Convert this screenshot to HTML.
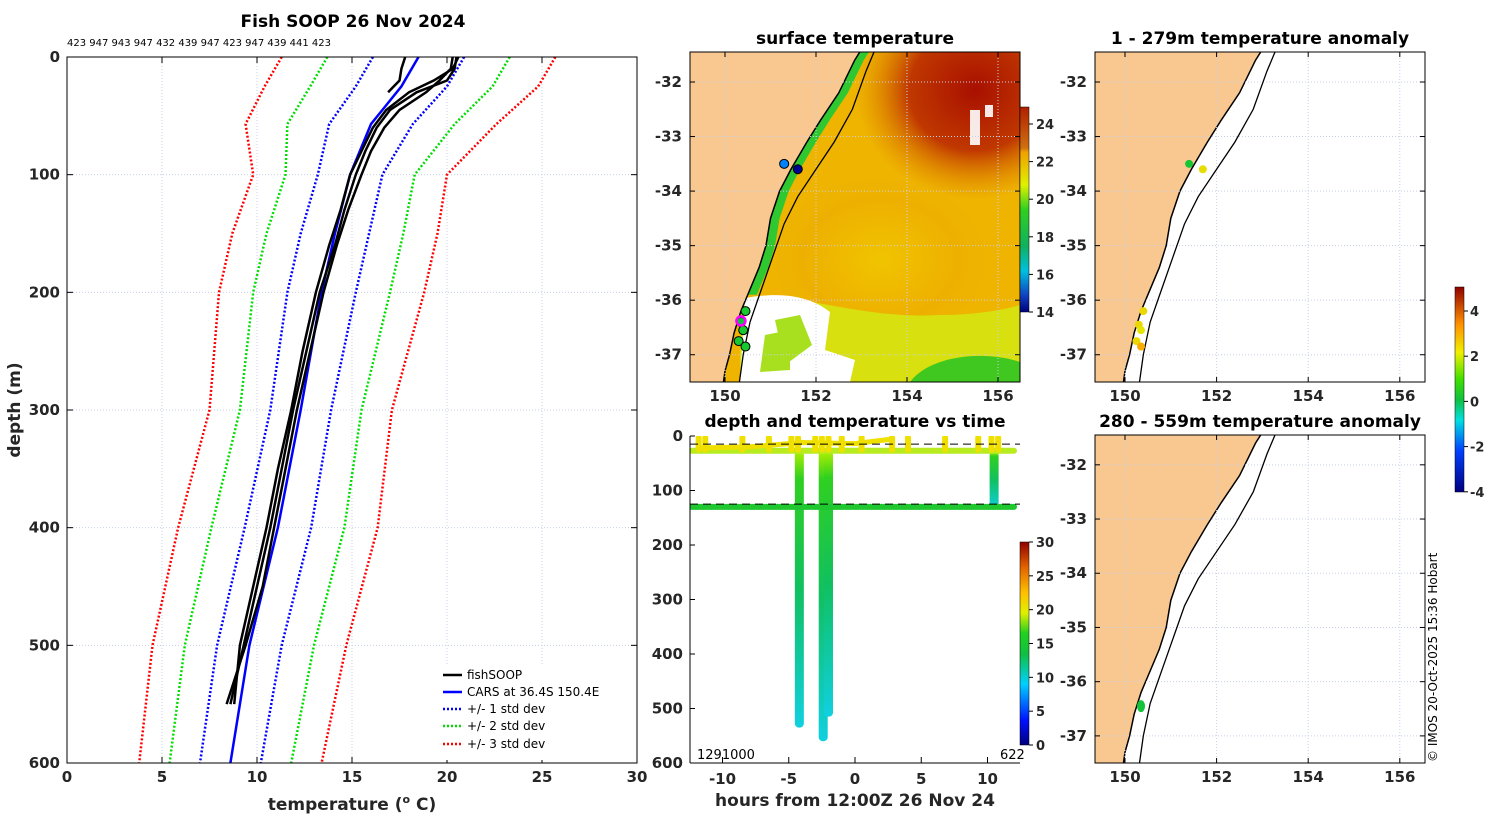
<!DOCTYPE html>
<html><head><meta charset="utf-8">
<style>
body{margin:0;background:#fff;}
svg{display:block;font-family:"DejaVu Sans","Liberation Sans",sans-serif;}
.tk{font-size:15px;font-weight:bold;fill:#262626;}
.ttl{font-size:17px;font-weight:bold;fill:#000;}
.grid{stroke:#c8d0e8;stroke-width:1;stroke-dasharray:1 2;}
</style></head>
<body>
<svg id="fig" width="1500" height="820" viewBox="0 0 1500 820">
<defs>
<linearGradient id="jetV" x1="0" y1="1" x2="0" y2="0">
<stop offset="0" stop-color="#00007f"/><stop offset="0.12" stop-color="#0010ff"/>
<stop offset="0.3" stop-color="#00d0ff"/><stop offset="0.45" stop-color="#10c040"/>
<stop offset="0.55" stop-color="#20d020"/><stop offset="0.65" stop-color="#e0f000"/>
<stop offset="0.75" stop-color="#ffc000"/><stop offset="0.88" stop-color="#e06000"/>
<stop offset="1" stop-color="#900000"/></linearGradient>
<linearGradient id="sstV" x1="0" y1="1" x2="0" y2="0">
<stop offset="0" stop-color="#00007f"/><stop offset="0.08" stop-color="#1040c0"/>
<stop offset="0.2" stop-color="#00c0e0"/><stop offset="0.32" stop-color="#10b060"/>
<stop offset="0.5" stop-color="#30d020"/><stop offset="0.62" stop-color="#e0f000"/>
<stop offset="0.78" stop-color="#f0a000"/><stop offset="0.8" stop-color="#d07010"/>
<stop offset="1" stop-color="#b02000"/></linearGradient>
<linearGradient id="anoV" x1="0" y1="1" x2="0" y2="0">
<stop offset="0" stop-color="#00007f"/><stop offset="0.2" stop-color="#0040ff"/>
<stop offset="0.35" stop-color="#00e0e0"/><stop offset="0.45" stop-color="#10c040"/>
<stop offset="0.55" stop-color="#40e000"/><stop offset="0.68" stop-color="#f0f000"/>
<stop offset="0.82" stop-color="#ff9000"/><stop offset="1" stop-color="#900000"/></linearGradient>
<linearGradient id="diveG" x1="0" y1="0" x2="0" y2="1">
<stop offset="0" stop-color="#b0f000"/><stop offset="0.1" stop-color="#30d020"/>
<stop offset="0.5" stop-color="#10c060"/><stop offset="1" stop-color="#10d0e0"/></linearGradient>
<radialGradient id="eddy" cx="0.5" cy="0.5" r="0.5">
<stop offset="0" stop-color="#f0c400"/><stop offset="0.7" stop-color="#eeb000"/><stop offset="1" stop-color="#eeb000" stop-opacity="0"/></radialGradient>
<radialGradient id="warm" cx="0.5" cy="0.5" r="0.5">
<stop offset="0" stop-color="#a81000"/><stop offset="0.55" stop-color="#c03800"/><stop offset="1" stop-color="#e08000" stop-opacity="0"/></radialGradient>
<clipPath id="clip1"><rect x="690" y="52" width="330" height="330"/></clipPath>
<clipPath id="clip2"><rect x="1095" y="52" width="330" height="330"/></clipPath>
<clipPath id="clip3"><rect x="1095" y="435" width="330" height="328"/></clipPath>
<clipPath id="clipT"><rect x="690" y="436" width="330" height="327"/></clipPath>
</defs>

<g>
<text x="353" y="27" text-anchor="middle" class="ttl">Fish SOOP 26 Nov 2024</text>
<text x="67" y="46" font-size="10" fill="#000">423 947 943 947 432 439 947 423 947 439 441 423</text>
<g id="pgrid"></g>
<g id="pmarks"></g>
<rect x="67" y="57" width="570" height="706" fill="none" stroke="#000" stroke-width="1"/>
<g id="paxes"></g>
<text x="352" y="810" text-anchor="middle" font-size="17" font-weight="bold" fill="#262626">temperature (<tspan font-size="11" dy="-7">o</tspan><tspan dy="7"> C)</tspan></text>
<text transform="translate(20,410) rotate(-90)" text-anchor="middle" font-size="17" font-weight="bold" fill="#262626">depth (m)</text>
<g font-size="12" fill="#000">
<rect x="437" y="664" width="198" height="96" fill="#fff"/>
<line x1="443" y1="675" x2="462" y2="675" stroke="#000" stroke-width="2.5"/><text x="467" y="679">fishSOOP</text>
<line x1="443" y1="692" x2="462" y2="692" stroke="#0000ff" stroke-width="2.5"/><text x="467" y="696">CARS at 36.4S 150.4E</text>
<line x1="443" y1="709" x2="462" y2="709" stroke="#0000ff" stroke-width="2.5" stroke-dasharray="2 2"/><text x="467" y="713">+/- 1 std dev</text>
<line x1="443" y1="726" x2="462" y2="726" stroke="#00dd00" stroke-width="2.5" stroke-dasharray="2 2"/><text x="467" y="730">+/- 2 std dev</text>
<line x1="443" y1="744" x2="462" y2="744" stroke="#ff0000" stroke-width="2.5" stroke-dasharray="2 2"/><text x="467" y="748">+/- 3 std dev</text>
</g>
</g>

<g>
<text x="855" y="44" text-anchor="middle" class="ttl">surface temperature</text>
<g clip-path="url(#clip1)" id="map1">
<rect x="690" y="52" width="330" height="330" fill="#eeb400"/>
<ellipse cx="975" cy="90" rx="120" ry="110" fill="url(#warm)"/>
<ellipse cx="880" cy="260" rx="110" ry="85" fill="url(#eddy)"/>
<path d="M740,300 C800,290 860,320 940,315 C990,315 1020,305 1020,305 L1020,382 L740,382 Z" fill="#d8e010"/>
<path d="M910,382 C930,355 985,350 1020,362 L1020,382 Z" fill="#40c820"/>
<path d="M745,298 C790,290 815,300 830,312 L825,350 L855,360 L850,382 L740,382 Z" fill="#fff"/>
<path d="M775,320 L800,315 L812,345 L785,365 Z" fill="#a8e020"/>
<path d="M765,335 L790,330 L790,370 L760,372 Z" fill="#a8e020"/>
<rect x="970" y="110" width="10" height="35" fill="#fff" opacity="0.9"/>
<rect x="985" y="105" width="8" height="12" fill="#fff" opacity="0.9"/>
</g>
<g clip-path="url(#clip1)" id="map1land"></g>
<rect x="690" y="52" width="330" height="330" fill="none" stroke="#000"/>
<g id="map1axes"></g>
<rect x="1020" y="107" width="9" height="205" fill="url(#sstV)" stroke="#000" stroke-width="0.5"/>
<g id="sstcb"></g>
</g>

<g>
<text x="1260" y="44" text-anchor="middle" class="ttl">1 - 279m temperature anomaly</text>
<g clip-path="url(#clip2)" id="map2"></g>
<rect x="1095" y="52" width="330" height="330" fill="none" stroke="#000"/>
<g id="map2axes"></g>
</g>
<g>
<text x="1260" y="427" text-anchor="middle" class="ttl">280 - 559m temperature anomaly</text>
<g clip-path="url(#clip3)" id="map3"></g>
<rect x="1095" y="435" width="330" height="328" fill="none" stroke="#000"/>
<g id="map3axes"></g>
</g>
<rect x="1455" y="287" width="9" height="205" fill="url(#anoV)" stroke="#000" stroke-width="0.5"/>
<g id="anocb"></g>
<text transform="translate(1437,762) rotate(-90)" font-size="12" fill="#000">© IMOS 20-Oct-2025 15:36 Hobart</text>

<g>
<text x="855" y="427" text-anchor="middle" class="ttl">depth and temperature vs time</text>
<g clip-path="url(#clipT)" id="tmarks"></g>
<line x1="690" y1="436" x2="690" y2="763" stroke="#000"/><line x1="690" y1="763" x2="1020" y2="763" stroke="#000"/>
<g id="taxes"></g>
<text x="697" y="759" font-size="13" fill="#000">1291000</text>
<text x="1000" y="759" font-size="13" fill="#000">622</text>
<text x="855" y="806" text-anchor="middle" font-size="17" font-weight="bold" fill="#262626">hours from 12:00Z 26 Nov 24</text>
<rect x="1020" y="542" width="9" height="203" fill="url(#jetV)" stroke="#000" stroke-width="0.5"/>
<g id="tcb"></g>
</g>
</svg>
<script>
const depthLevels=[0,25,57,100,150,200,300,400,500,600];
const carsTemp=[18.5,17.6,16.0,14.9,14.1,13.4,12.3,11.1,9.6,8.6];
const carsStd=[2.4,2.4,2.2,1.7,1.8,1.8,1.6,1.75,1.7,1.6];
const fishDepths=[0,10,20,30,45,60,80,100,130,160,200,250,300,350,400,450,500,550];
const fishA=[20.5,20.4,20.0,18.4,17.0,16.3,15.7,15.2,14.6,14.1,13.3,12.6,11.9,11.3,10.7,10.0,9.3,8.6];
const fishB=[20.3,20.2,19.6,18.9,17.5,16.7,16.0,15.5,14.8,14.2,13.5,12.8,12.1,11.5,10.9,10.3,9.4,8.4];
const fishC=[20.6,20.3,19.3,18.0,16.8,16.1,15.5,14.9,14.4,13.8,13.1,12.4,11.8,11.1,10.5,9.8,9.1,8.8];
const fishShortD=[0,10,20,30];
const fishShortT=[17.8,17.6,17.5,16.9];
const tempTicks=[0,5,10,15,20,25,30];
const depthTicks=[0,100,200,300,400,500,600];
const coastLon=[153.0,152.85,152.5,152.1,151.8,151.45,151.2,151.0,150.9,150.75,150.5,150.35,150.2,150.1,150.0,149.95];
const coastLat=[-31.4,-31.6,-32.2,-32.7,-33.1,-33.6,-34.0,-34.5,-35.0,-35.4,-35.9,-36.2,-36.6,-37.0,-37.3,-37.6];
const isoLon=[153.3,153.1,152.8,152.4,152.0,151.6,151.3,151.05,150.8,150.55,150.4,150.3];
const isoLat=[-31.4,-31.8,-32.5,-33.1,-33.6,-34.1,-34.6,-35.2,-35.8,-36.4,-37.0,-37.6];
const sstLon=[151.3,151.6,150.45,150.35,150.4,150.3,150.45];
const sstLat=[-33.5,-33.6,-36.2,-36.4,-36.55,-36.75,-36.85];
const sstVal=[16.5,14.2,19.5,19,19.5,19.5,19.5];
const anoLon=[151.4,151.7,150.4,150.3,150.35,150.25,150.35];
const anoLat=[-33.5,-33.6,-36.2,-36.45,-36.55,-36.75,-36.85];
const anoVal=[0.5,2.5,2.6,2.6,2.4,2.6,3.2];
const deepLon=[150.35];
const deepLat=[-36.45];
const deepVal=[0.3];
const lonTicks=[150,152,154,156];
const latTicks=[-32,-33,-34,-35,-36,-37];
const diveHours=[-4.2,-2.4,-2.0,10.5];
const diveMax=[535,560,515,135];
const bandDepths=[27,130];
const bandStart=[-12.3,-12.3];
const bandEnd=[12.0,12.0];
const spikeHours=[-11.8,-11.3,-8.5,-6.5,-4.8,-4.3,-3.0,-2.5,-2.0,-1.0,0.5,2.8,4.0,6.8,9.3,10.3,10.8];
const hourTicks=[-10,-5,0,5,10];
const sstTicks=[14,16,18,20,22,24];
const anoTicks=[-4,-2,0,2,4];
const tcbTicks=[0,5,10,15,20,25,30];

const NS='http://www.w3.org/2000/svg';
function mk(parent,tag,attrs){const e=document.createElementNS(NS,tag);for(const k in attrs)e.setAttribute(k,attrs[k]);document.getElementById(parent).appendChild(e);return e;}
const px=t=>67+t*19, py=d=>57+d*706/600;
tempTicks.forEach(t=>{const l=mk('pgrid','line',{x1:px(t),x2:px(t),y1:57,y2:763,class:'grid'});

mk('paxes','line',{x1:px(t),x2:px(t),y1:57,y2:63,stroke:'#000'});mk('paxes','line',{x1:px(t),x2:px(t),y1:763,y2:757,stroke:'#000'});
const tx=mk('paxes','text',{x:px(t),y:782,'text-anchor':'middle',class:'tk'});tx.textContent=t;
});
depthTicks.forEach(d=>{const l=mk('pgrid','line',{x1:67,x2:637,y1:py(d),y2:py(d),class:'grid'});

mk('paxes','line',{x1:67,x2:73,y1:py(d),y2:py(d),stroke:'#000'});mk('paxes','line',{x1:637,x2:631,y1:py(d),y2:py(d),stroke:'#000'});
const tx=mk('paxes','text',{x:60,y:py(d)+5,'text-anchor':'end',class:'tk'});tx.textContent=d;
});
function pline(T,D,attrs,name){const p=mk('pmarks','polyline',Object.assign({points:T.map((t,i)=>px(t)+','+py(D[i])).join(' '),fill:'none'},attrs));
}
[[3,'#ff0000'],[2,'#00dd00'],[1,'#0000ff']].forEach(([k,c])=>{
pline(carsTemp.map((t,i)=>t-k*carsStd[i]),depthLevels,{stroke:c,'stroke-width':2.5,'stroke-dasharray':'2 2'},'std-'+k+'-lower');
pline(carsTemp.map((t,i)=>t+k*carsStd[i]),depthLevels,{stroke:c,'stroke-width':2.5,'stroke-dasharray':'2 2'},'std-'+k+'-upper');});
pline(carsTemp,depthLevels,{stroke:'#0000ff','stroke-width':2.5},'cars-line');
pline(fishA,fishDepths,{stroke:'#000','stroke-width':2.5},'fishsoop-profile');
pline(fishB,fishDepths,{stroke:'#000','stroke-width':2.5},'fishsoop-profile');
pline(fishC,fishDepths,{stroke:'#000','stroke-width':2.5},'fishsoop-profile');
pline(fishShortT,fishShortD,{stroke:'#000','stroke-width':2.5},'fishsoop-profile');

function jet(v,lo,hi){const f=Math.max(0,Math.min(1,(v-lo)/(hi-lo)));
const st=[[0,[0,0,127]],[0.12,[0,16,255]],[0.3,[0,208,255]],[0.45,[16,192,64]],[0.55,[32,208,32]],[0.68,[224,240,0]],[0.8,[255,160,0]],[1,[144,0,0]]];
for(let i=1;i<st.length;i++){if(f<=st[i][0]){const a=st[i-1],b=st[i],u=(f-a[0])/(b[0]-a[0]);return 'rgb('+a[1].map((c,j)=>Math.round(c+(b[1][j]-c)*u)).join(',')+')';}}return 'rgb(144,0,0)';}
function drawMap(g,axg,x0,y0,w,h,lat0,lat1,lonX150,pxPerLon){
const mx=lon=>lonX150+(lon-150)*pxPerLon, my=lat=>y0+(lat0-lat)/(lat0-lat1)*h;
let pts=coastLon.map((l,i)=>mx(l)+','+my(coastLat[i])).join(' ');
const land=mk(g,'polygon',{points:x0+','+(y0-10)+' '+pts+' '+x0+','+(y0+h+10),fill:'#f9c890'});

const cst=mk(g,'polyline',{points:pts,fill:'none',stroke:'#000','stroke-width':1.5});

lonTicks.forEach(l=>{mk(g,'line',{x1:mx(l),x2:mx(l),y1:y0,y2:y0+h,class:'grid'});
mk(axg,'line',{x1:mx(l),x2:mx(l),y1:y0,y2:y0+5,stroke:'#000'});mk(axg,'line',{x1:mx(l),x2:mx(l),y1:y0+h,y2:y0+h-5,stroke:'#000'});
const t=mk(axg,'text',{x:mx(l),y:y0+h+19,'text-anchor':'middle',class:'tk'});t.textContent=l;
});
latTicks.forEach(l=>{mk(g,'line',{x1:x0,x2:x0+w,y1:my(l),y2:my(l),class:'grid'});
mk(axg,'line',{x1:x0,x2:x0+5,y1:my(l),y2:my(l),stroke:'#000'});mk(axg,'line',{x1:x0+w,x2:x0+w-5,y1:my(l),y2:my(l),stroke:'#000'});
const t=mk(axg,'text',{x:x0-8,y:my(l)+5,'text-anchor':'end',class:'tk'});t.textContent=l;
});
const iso=mk(g,'polyline',{points:isoLon.map((l,i)=>mx(l)+','+my(isoLat[i])).join(' '),fill:'none',stroke:'#000','stroke-width':1.3});

return [mx,my];}
(function(){const mx=l=>725+(l-150)*45.5,my=l=>52+(-31.45-l)/6.05*330;
const n=coastLat.length-5;
const strip=mk('map1','polygon',{points:coastLon.slice(0,n).map((l,i)=>mx(l+0.2)+','+my(coastLat[i])).join(' ')+' '+coastLon.slice(0,n).reverse().map((l,i)=>mx(l)+','+my(coastLat[n-1-i])).join(' '),fill:'#30c830'});
})();
const m1=drawMap('map1land','map1axes',690,52,330,330,-31.45,-37.5,725,45.5);
sstLon.forEach((l,i)=>{const c=mk('map1land','circle',{cx:m1[0](l),cy:m1[1](sstLat[i]),r:4.5,fill:jet(sstVal[i],14,25),stroke:'#000','stroke-width':1});
});
mk('map1land','circle',{cx:m1[0](150.35),cy:m1[1](-36.38),r:4.5,fill:'none',stroke:'#ff00ff','stroke-width':2.5});
sstTicks.forEach(v=>{const y=312-(v-14)*18.8;mk('sstcb','line',{x1:1029,x2:1033,y1:y,y2:y,stroke:'#000'});
const t=mk('sstcb','text',{x:1036,y:y+5,'font-size':13,'font-weight':'bold',fill:'#262626'});t.textContent=v;
});
const m2=drawMap('map2','map2axes',1095,52,330,330,-31.45,-37.5,1125,45.8);
anoLon.forEach((l,i)=>{const c=mk('map2','circle',{cx:m2[0](l),cy:m2[1](anoLat[i]),r:4,fill:jet(anoVal[i],-4,5.2)});
});
const m3=drawMap('map3','map3axes',1095,435,330,328,-31.45,-37.5,1125,45.8);
deepLon.forEach((l,i)=>{const c=mk('map3','ellipse',{cx:m3[0](l),cy:m3[1](deepLat[i]),rx:4,ry:6,fill:jet(deepVal[i],-4,5.2)});
});
anoTicks.forEach(v=>{const yy=311+(4-v)*22.6;mk('anocb','line',{x1:1464,x2:1468,y1:yy,y2:yy,stroke:'#000'});
const t=mk('anocb','text',{x:1470,y:yy+5,'font-size':13,'font-weight':'bold',fill:'#262626'});t.textContent=v;
});

const tx=h=>855+h*13.25, ty=d=>436+d*327/600;
hourTicks.forEach(h=>{mk('taxes','line',{x1:tx(h),x2:tx(h),y1:763,y2:757,stroke:'#000'});
const t=mk('taxes','text',{x:tx(h),y:784,'text-anchor':'middle',class:'tk'});t.textContent=h;
});
depthTicks.forEach(d=>{mk('taxes','line',{x1:690,x2:695,y1:ty(d),y2:ty(d),stroke:'#000'});
const t=mk('taxes','text',{x:683,y:ty(d)+5,'text-anchor':'end',class:'tk'});t.textContent=d;
});
diveHours.forEach((h,i)=>{const r=mk('tmarks','rect',{x:tx(h)-4.5,y:ty(bandDepths[0]),width:9,height:ty(diveMax[i])-ty(bandDepths[0]),rx:4,fill:'url(#diveG)'});
});
bandDepths.forEach((d,i)=>{const l=mk('tmarks','line',{x1:tx(bandStart[i]),x2:tx(bandEnd[i]),y1:ty(d),y2:ty(d),stroke:i?'#20c830':'#b8ec20','stroke-width':6,'stroke-linecap':'round'});
});
spikeHours.forEach(h=>{const l=mk('tmarks','line',{x1:tx(h),x2:tx(h),y1:ty(3),y2:ty(25),stroke:'#f0e000','stroke-width':6,'stroke-linecap':'round'});
});
const sl=mk('tmarks','polyline',{points:[tx(-12),ty(22),tx(-8),ty(20),tx(-4),ty(12),tx(0),ty(14),tx(3),ty(5)].join(' '),fill:'none',stroke:'#f0e000','stroke-width':5});

[15,125].forEach(d=>{mk('tmarks','line',{x1:690,x2:1020,y1:ty(d),y2:ty(d),stroke:'#000','stroke-dasharray':'8 5','stroke-width':1});});
tcbTicks.forEach(v=>{const y=745-v*203/30;mk('tcb','line',{x1:1029,x2:1033,y1:y,y2:y,stroke:'#000'});
const t=mk('tcb','text',{x:1036,y:y+5,'font-size':13,'font-weight':'bold',fill:'#262626'});t.textContent=v;
});
</script>
</body></html>
